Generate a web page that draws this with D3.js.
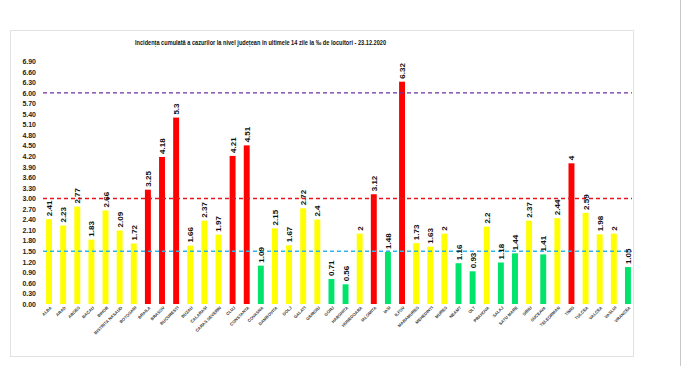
<!DOCTYPE html>
<html><head><meta charset="utf-8">
<script src="https://cdn.jsdelivr.net/npm/d3@7"></script>
<style>
html,body{margin:0;padding:0;background:#fff;}
svg{display:block;font-family:"Liberation Sans",Arial,sans-serif;}
</style></head>
<body>
<svg id="c" width="683" height="366"></svg>
<script>
const title = "Incidența cumulată a cazurilor la nivel județean în ultimele 14 zile   la ‰ de locuitori  - 23.12.2020";
const categories = ["ALBA","ARAD","ARGES","BACAU","BIHOR","BISTRITA NASAUD","BOTOSANI","BRAILA","BRASOV","BUCURESTI","BUZAU","CALARASI","CARAS SEVERIN","CLUJ","CONSTANTA","COVASNA","DAMBOVITA","DOLJ","GALATI","GIURGIU","GORJ","HARGHITA","HUNEDOARA","IALOMITA","IASI","ILFOV","MARAMURES","MEHEDINTI","MURES","NEAMT","OLT","PRAHOVA","SALAJ","SATU MARE","SIBIU","SUCEAVA","TELEORMAN","TIMIS","TULCEA","VALCEA","VASLUI","VRANCEA"];
const values = [2.41,2.23,2.77,1.83,2.66,2.09,1.72,3.25,4.18,5.3,1.66,2.37,1.97,4.21,4.51,1.09,2.15,1.67,2.72,2.4,0.71,0.56,2,3.12,1.48,6.32,1.73,1.63,2,1.16,0.93,2.2,1.18,1.44,2.37,1.41,2.44,4,2.59,1.98,2,1.05];
const valueLabels = ["2.41","2.23","2.77","1.83","2.66","2.09","1.72","3.25","4.18","5.3","1.66","2.37","1.97","4.21","4.51","1.09","2.15","1.67","2.72","2.4","0.71","0.56","2","3.12","1.48","6.32","1.73","1.63","2","1.16","0.93","2.2","1.18","1.44","2.37","1.41","2.44","4","2.59","1.98","2","1.05"];
const yTicks = [0,0.3,0.6,0.9,1.2,1.5,1.8,2.1,2.4,2.7,3.0,3.3,3.6,3.9,4.2,4.5,4.8,5.1,5.4,5.7,6.0,6.3,6.6,6.9];
const thresholds = [6.0, 3.0, 1.5];
const thresholdColors = ["#7030A0","#E8141E","#2EB4E6"];

const svg = d3.select("#c");
// outer decorations
svg.append("rect").attr("x",10.5).attr("y",30.5).attr("width",623).attr("height",326)
  .attr("fill","#fff").attr("stroke","#e2e2e2").attr("stroke-width",1);
svg.append("line").attr("x1",680.5).attr("x2",680.5).attr("y1",0).attr("y2",366)
  .attr("stroke","#c8c8c8").attr("stroke-width",1);

svg.append("text").attr("x",260.5).attr("y",44.5).attr("text-anchor","middle")
  .attr("font-size",7.5).attr("font-weight","bold").attr("fill","#111")
  .attr("textLength",251).attr("lengthAdjust","spacingAndGlyphs").text(title);

const x = d3.scaleBand().domain(categories).range([42,635]).paddingInner(0.58).paddingOuter(0.29);
const y = d3.scaleLinear().domain([0,6.9]).range([304,61.3]);

const color = v => v > 3 ? "#FF0000" : (v >= 1.5 ? "#FFFF00" : "#00E46C");

// y axis labels
const yAxis = d3.axisLeft(y).tickValues(yTicks).tickFormat(d3.format(".2f")).tickSize(0).tickPadding(0);
const ya = svg.append("g").attr("transform","translate(36,0)").call(yAxis);
ya.select(".domain").remove();
ya.selectAll("text").attr("font-size",7).attr("font-weight","bold").attr("fill","#222")
  .attr("font-family","Liberation Sans, Arial, sans-serif");

// bars
svg.append("g").selectAll("rect").data(values).join("rect")
  .attr("x",(d,i)=>x(categories[i]))
  .attr("width",x.bandwidth())
  .attr("y",d=>y(d))
  .attr("height",d=>y(0)-y(d))
  .attr("fill",d=>color(d));

// threshold lines
svg.append("g").selectAll("line").data(thresholds).join("line")
  .attr("x1",43).attr("x2",632)
  .attr("y1",d=>y(d)).attr("y2",d=>y(d))
  .attr("stroke",(d,i)=>thresholdColors[i]).attr("stroke-width",1.3)
  .attr("stroke-dasharray","4,3");

// value labels
svg.append("g").selectAll("text").data(values).join("text")
  .attr("transform",(d,i)=>`translate(${x(categories[i])+x.bandwidth()/2+3},${y(d)-3}) rotate(-90)`)
  .attr("font-size",8).attr("font-weight","bold").attr("fill","#111")
  .text((d,i)=>valueLabels[i]);

// category labels
const xa = svg.append("g").attr("transform","translate(0,304)")
  .call(d3.axisBottom(x).tickSize(0).tickPadding(0));
xa.select(".domain").remove();
xa.selectAll("text")
  .attr("font-size",4.2).attr("font-weight","bold").attr("fill","#333")
  .attr("font-family","Liberation Sans, Arial, sans-serif")
  .attr("text-anchor","end").attr("dy",0)
  .attr("transform","translate(3,4) rotate(-45)");
</script>
</body></html>
